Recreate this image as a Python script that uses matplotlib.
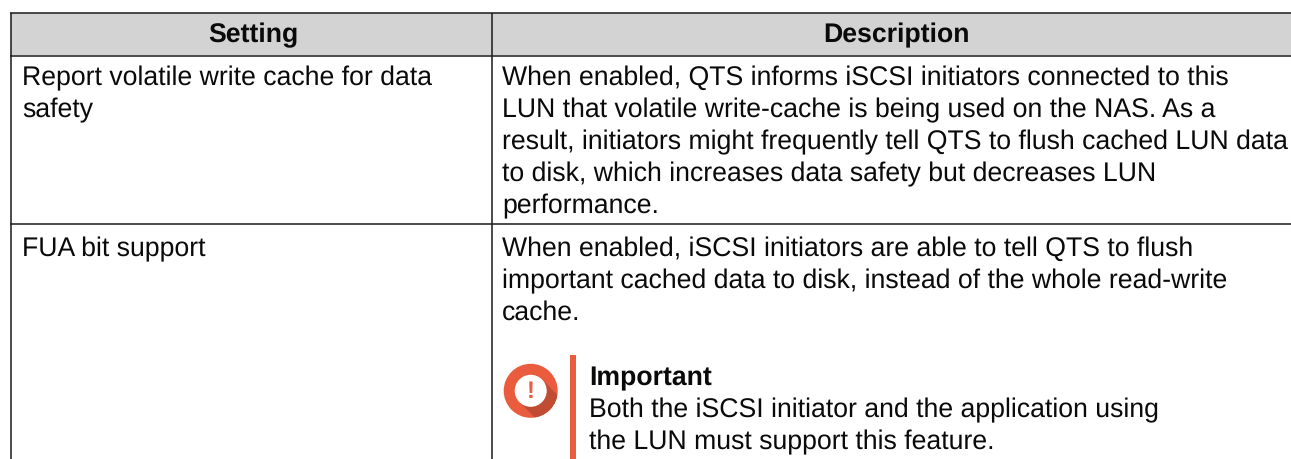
import matplotlib
matplotlib.use("Agg")
import matplotlib.pyplot as plt
from matplotlib.patches import Circle, Rectangle, Polygon

headers = ["Setting", "Description"]
row1_setting = ["Report volatile write cache for data", "safety"]
row1_desc = [
    "When enabled, QTS informs iSCSI initiators connected to this",
    "LUN that volatile write-cache is being used on the NAS. As a",
    "result, initiators might frequently tell QTS to flush cached LUN data",
    "to disk, which increases data safety but decreases LUN",
    "performance.",
]
row2_setting = ["FUA bit support"]
row2_desc = [
    "When enabled, iSCSI initiators are able to tell QTS to flush",
    "important cached data to disk, instead of the whole read-write",
    "cache.",
]
note_title = "Important"
note_lines = [
    "Both the iSCSI initiator and the application using",
    "the LUN must support this feature.",
]

W, H = 1291, 459
plt.rcParams["font.family"] = ["Liberation Sans", "DejaVu Sans"]
plt.rcParams["text.hinting"] = "no_hinting"
fig = plt.figure(figsize=(W / 100, H / 100), dpi=100)
ax = fig.add_axes([0, 0, 1, 1])
ax.set_xlim(0, W)
ax.set_ylim(H, 0)
ax.axis("off")

LINE = "#1a1a1a"
TXT = "#0a0a0a"
FS = 19.2
LH = 32
ax.add_patch(Rectangle((10.5, 12.5), W - 10.5 + 5, 42.5, fc="#d3d3d3", ec="none", zorder=1))
for y in (12.5, 55.5, 223.5):
    ax.plot([10, W], [y, y], color=LINE, lw=1.1, zorder=2, solid_capstyle="butt")
for x in (10.5, 491.5):
    ax.plot([x, x], [12.5, H], color=LINE, lw=1.1, zorder=2, solid_capstyle="butt")

ax.text(253.5, 42, headers[0], ha="center", va="baseline", fontsize=FS, fontweight="bold", color=TXT)
ax.text(896.5, 42, headers[1], ha="center", va="baseline", fontsize=FS, fontweight="bold", color=TXT)


def block(x, y, lines, **kw):
    for i, s in enumerate(lines):
        ax.text(x, y + i * LH, s, ha="left", va="baseline", fontsize=FS, color=TXT, **kw)


block(22, 85, row1_setting)
block(502, 85, row1_desc)
block(22, 256, row2_setting)
block(502, 256, row2_desc)

# Important icon
cx, cy, r, ri = 530.7, 390.8, 27, 16
disc = Circle((cx, cy), r, fc="#e95c3e", ec="none", zorder=3)
ax.add_patch(disc)
t = ri * 0.7071
shadow = Polygon([(cx + t, cy - t), (cx + t + 30, cy - t + 30), (cx - t + 30, cy + t + 30), (cx - t, cy + t)],
                 fc="#c04c33", ec="none", zorder=3.5)
ax.add_patch(shadow)
shadow.set_clip_path(disc)
ax.add_patch(Circle((cx, cy), ri, fc="white", ec="none", zorder=4))
ax.text(cx, cy + 0.5, "!", ha="center", va="center", fontsize=17, fontweight="bold", color="#e95c3e", zorder=5)
ax.add_patch(Rectangle((570, 355), 5.5, H - 355, fc="#e95c3e", ec="none", zorder=3))

ax.text(589, 385, note_title, ha="left", va="baseline", fontsize=FS, fontweight="bold", color=TXT)
for i, s in enumerate(note_lines):
    ax.text(589, 417 + i * LH, s, ha="left", va="baseline", fontsize=FS, color=TXT)

fig.savefig("out.png", dpi=100)
